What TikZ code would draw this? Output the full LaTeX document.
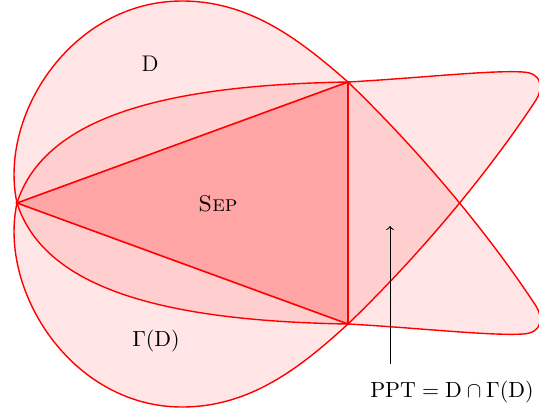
\documentclass[tikz,border=0pt]{standalone}
\usepackage{amsmath}
\usepackage{amssymb}
\usepackage{tikz}
\usepackage{xcolor}

\begin{document}
\begin{tikzpicture}[x=0.5pt,y=-0.5pt,
  region/.style={draw=red, line width=0.7pt, fill=red, fill opacity=0.1},
  sepfill/.style={draw=red, line width=0.8pt, fill=red, fill opacity=0.2},
  lbl/.style={font=\fontsize{11.3}{14}\selectfont, text=black}]
\useasboundingbox (0,0) rectangle (539,418);
\coordinate (L) at (17,203);
\coordinate (T) at (348,82);
\coordinate (B) at (348,324);
\path[region] (L) .. controls (-2,115) and (72,1) .. (182,1) .. controls (250,1) and (300,40) .. (T)
  .. controls (435,166) and (500,251) .. (536,306) .. controls (543,317) and (543,333) .. (523,334)
  .. controls (490,336) and (420,328) .. (B) .. controls (170,321) and (45,291) .. cycle;
\path[region] (L) .. controls (45,115) and (170,85) .. (T) .. controls (420,78) and (490,70) .. (523,72)
  .. controls (543,73) and (543,89) .. (536,100) .. controls (500,155) and (435,240) .. (B)
  .. controls (300,368) and (250,407) .. (182,407) .. controls (72,407) and (-2,291) .. cycle;
\draw[sepfill] (L) -- (T) -- (B) -- cycle;
\node[lbl] (dlabel) at (150,64) {D};
\node[lbl] (seplabel) at (218,204) {\textsc{Sep}};
\node[lbl] (gdlabel) at (156,341) {$\Gamma(\mathrm{D})$};
\node[lbl] (pptlabel) at (452,392) {$\mathrm{PPT}=\mathrm{D}\cap\Gamma(\mathrm{D})$};
\coordinate (pptpoint) at (390,226);
\draw[->, black, line width=0.5pt, shorten <=5pt] (pptlabel.north -| pptpoint) -- (pptpoint);
\end{tikzpicture}
\end{document}
